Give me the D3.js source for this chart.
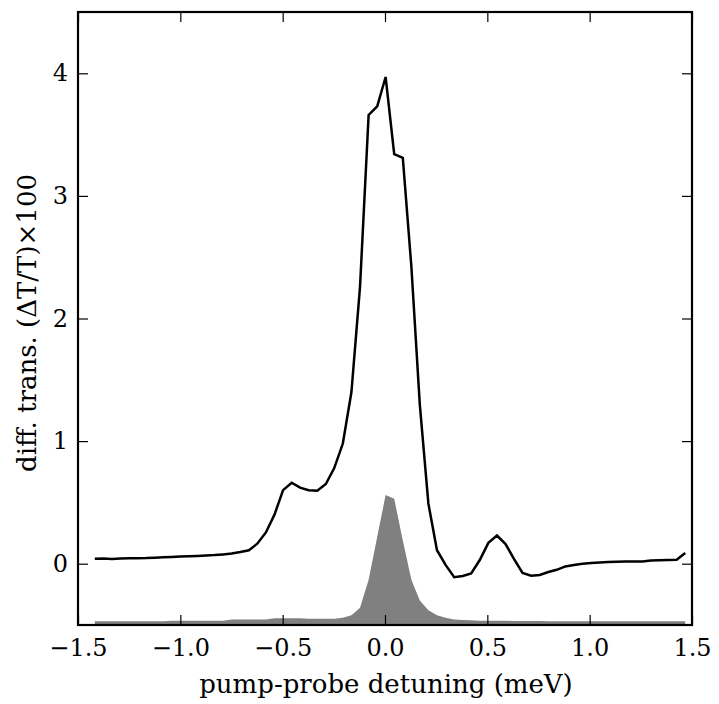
<!DOCTYPE html>
<html>
<head>
<meta charset="utf-8">
<script src="https://cdn.jsdelivr.net/npm/d3@7.9.0/dist/d3.min.js"></script>
<style>
  body { margin: 0; background: #fff; }
  svg text { font-family: "DejaVu Serif", serif; fill: #000; }
</style>
</head>
<body>
<svg id="chart" width="719" height="704"></svg>
<script>
// detuning grid (meV)
const detuning = [
  -1.418, -1.376, -1.334, -1.292, -1.251, -1.209, -1.167, -1.125, -1.083, -1.042,
  -1.000, -0.958, -0.916, -0.874, -0.833, -0.791, -0.749, -0.707, -0.665, -0.624,
  -0.582, -0.540, -0.498, -0.456, -0.415, -0.373, -0.331, -0.289, -0.248, -0.206,
  -0.164, -0.122, -0.080, -0.038, 0.003, 0.045, 0.087, 0.129, 0.170, 0.212,
  0.254, 0.296, 0.338, 0.380, 0.421, 0.463, 0.505, 0.547, 0.589, 0.630,
  0.672, 0.714, 0.756, 0.798, 0.839, 0.881, 0.923, 0.965, 1.007, 1.049,
  1.090, 1.132, 1.174, 1.216, 1.258, 1.299, 1.341, 1.383, 1.425, 1.467
];

// differential transmission (black line)
const diffTrans = [
  0.040, 0.042, 0.038, 0.043, 0.044, 0.045, 0.046, 0.049, 0.052, 0.055,
  0.058, 0.061, 0.063, 0.066, 0.070, 0.076, 0.083, 0.095, 0.110, 0.163,
  0.255, 0.400, 0.600, 0.660, 0.620, 0.600, 0.595, 0.650, 0.780, 0.980,
  1.400, 2.260, 3.660, 3.730, 3.970, 3.340, 3.310, 2.420, 1.300, 0.490,
  0.110, -0.010, -0.110, -0.100, -0.080, 0.030, 0.170, 0.230, 0.160, 0.040,
  -0.076, -0.098, -0.092, -0.068, -0.050, -0.022, -0.010, 0.000, 0.006, 0.010,
  0.014, 0.016, 0.017, 0.017, 0.018, 0.027, 0.028, 0.030, 0.032, 0.087
];

// pump spectrum (grey fill)
const pump = [
  -0.470, -0.470, -0.470, -0.470, -0.470, -0.470, -0.470, -0.470, -0.470, -0.465,
  -0.465, -0.465, -0.465, -0.465, -0.465, -0.465, -0.455, -0.455, -0.455, -0.455,
  -0.455, -0.445, -0.445, -0.445, -0.445, -0.450, -0.450, -0.450, -0.450, -0.440,
  -0.420, -0.360, -0.130, 0.220, 0.560, 0.530, 0.190, -0.130, -0.300, -0.380,
  -0.420, -0.440, -0.455, -0.460, -0.462, -0.465, -0.465, -0.465, -0.466, -0.467,
  -0.468, -0.468, -0.468, -0.469, -0.469, -0.470, -0.470, -0.470, -0.470, -0.470,
  -0.470, -0.470, -0.470, -0.470, -0.470, -0.470, -0.470, -0.470, -0.470, -0.470
];

const xTicks = [-1.5, -1.0, -0.5, 0.0, 0.5, 1.0, 1.5];
const yTicks = [0, 1, 2, 3, 4];

const margin = { top: 12, right: 27, bottom: 79, left: 78 };
const width = 719, height = 704;
const svg = d3.select('#chart');

const x = d3.scaleLinear().domain([-1.5, 1.5]).range([margin.left, width - margin.right]);
const y = d3.scaleLinear().domain([-0.5, 4.5]).range([height - margin.bottom, margin.top]);

const data = detuning.map((d, i) => ({ x: d, line: diffTrans[i], fill: pump[i] }));

svg.append('clipPath').attr('id', 'clip')
  .append('rect')
  .attr('x', margin.left).attr('y', margin.top)
  .attr('width', width - margin.left - margin.right)
  .attr('height', height - margin.top - margin.bottom);

const plot = svg.append('g').attr('clip-path', 'url(#clip)');

plot.append('path')
  .datum(data)
  .attr('fill', '#808080')
  .attr('d', d3.area().x(d => x(d.x)).y0(y(-0.5)).y1(d => y(d.fill)));

plot.append('path')
  .datum(data)
  .attr('fill', 'none')
  .attr('stroke', '#000')
  .attr('stroke-width', 2.5)
  .attr('d', d3.line().x(d => x(d.x)).y(d => y(d.line)));

const fmtX = d => d3.format('.1f')(d).replace('-', '\u2212');

// axes, ticks pointing inwards on all four sides
const tick = 10;
svg.append('g')
  .attr('transform', `translate(0,${height - margin.bottom})`)
  .call(d3.axisBottom(x).tickValues(xTicks).tickSizeInner(-tick).tickSizeOuter(0).tickPadding(14).tickFormat(fmtX))
  .call(g => g.select('.domain').remove())
  .call(g => g.selectAll('text').attr('font-size', 24).attr('dy', '0.71em'));

svg.append('g')
  .attr('transform', `translate(0,${margin.top})`)
  .call(d3.axisTop(x).tickValues(xTicks).tickSizeInner(-tick).tickSizeOuter(0).tickFormat(''))
  .call(g => g.select('.domain').remove());

svg.append('g')
  .attr('transform', `translate(${margin.left},0)`)
  .call(d3.axisLeft(y).tickValues(yTicks).tickSizeInner(-tick).tickSizeOuter(0).tickPadding(10).tickFormat(d3.format('d')))
  .call(g => g.select('.domain').remove())
  .call(g => g.selectAll('text').attr('font-size', 24));

svg.append('g')
  .attr('transform', `translate(${width - margin.right},0)`)
  .call(d3.axisRight(y).tickValues(yTicks).tickSizeInner(-tick).tickSizeOuter(0).tickFormat(''))
  .call(g => g.select('.domain').remove());

svg.selectAll('.tick line').attr('stroke', '#000').attr('stroke-width', 1.2);

svg.append('rect')
  .attr('x', margin.left).attr('y', margin.top)
  .attr('width', width - margin.left - margin.right)
  .attr('height', height - margin.top - margin.bottom)
  .attr('fill', 'none')
  .attr('stroke', '#000')
  .attr('stroke-width', 2.2);

svg.append('text')
  .attr('x', 386)
  .attr('y', 693)
  .attr('text-anchor', 'middle')
  .attr('font-size', 26)
  .text('pump-probe detuning (meV)');

svg.append('text')
  .attr('transform', 'translate(36,323) rotate(-90)')
  .attr('text-anchor', 'middle')
  .attr('font-size', 26)
  .text('diff. trans. (\u0394T/T)\u00d7100');
</script>
</body>
</html>
